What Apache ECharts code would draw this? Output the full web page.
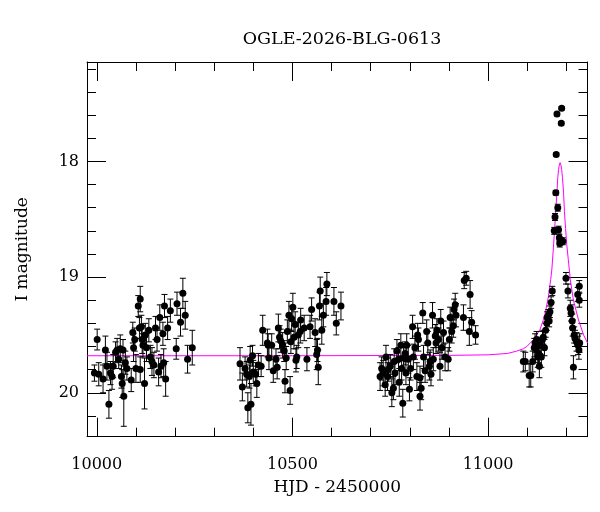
<!DOCTYPE html>
<html>
<head>
<meta charset="utf-8">
<script src="https://cdn.jsdelivr.net/npm/echarts@6/dist/echarts.min.js"></script>
<style>html,body{margin:0;padding:0;background:#fff}#c{width:600px;height:512px}</style>
</head>
<body>
<div id="c"></div>
<script>
// ---- data (HJD-2450000, I mag, error) ----
const hjd = [
 9994,10001,10005,10016,10022,10026,10031,10035,10039,10042,10048,10052,10056,10060,10063,10065,10067,10069,10073,10077,
 10088,10092,10094,10097,10100,10106,10109,10111,10111,10114,10116,10118,10122,10124,10127,10133,10137,10141,10146,10150,
 10154,10158,10161,10164,10169,10171,10173,10176,10181,10188,10203,10205,10214,10220,10226,10232,10244,
 10366,10372,10379,10383,10386,10390,10392,10394,10398,10400,10406,10409,10413,10420,10424,10436,10438,10440,10447,10451,
 10458,10461,10464,10467,10470,10475,10479,10481,10484,10487,10491,10494,10496,10498,10501,10504,10507,10509,10511,10515,
 10520,10521,10530,10537,10545,10549,10558,10562,10564,10566,10569,10571,10575,10579,10586,10588,10606,10612,10624,
 10724,10728,10732,10737,10739,10743,10745,10750,10754,10758,10760,10762,10767,10771,10773,10777,10779,10782,10784,10788,
 10790,10792,10796,10799,10802,10807,10809,10813,10818,10820,10822,10826,10826,10829,10833,10835,10839,10843,10846,10850,
 10852,10854,10858,10860,10865,10867,10869,10873,10877,10879,10882,10886,10890,10898,10901,10903,10907,10911,10913,10916,
 10918,10937,10939,10944,10952,10954,10958,10968,
 11090,11095,11105,11109,11114,11118,11120,11123,11124,11127,11129,11131,11133,11136,11139,11141,11144,11147,11150,11151,
 11154,11156,11158,11161,11164,11169,11171,11173,11174,11176,11178,11180,11182,11183,11186,11187,11188,11191,
 11199,11204,11210,11212,11215,11216,11218,11220,11222,11226,11229,11230,11232,11233,11233,11234
];
const imag = [
 19.83,19.54,19.84,19.88,19.63,19.77,20.10,19.83,19.86,19.77,19.65,19.63,19.71,19.62,19.86,19.92,19.63,20.03,19.74,19.79,
 19.89,19.48,19.61,19.54,19.79,19.25,19.44,19.19,19.80,19.43,19.54,19.59,19.92,19.50,19.61,19.46,19.69,19.73,19.76,19.44,
 19.54,19.82,19.35,19.77,19.49,19.74,19.25,19.88,19.44,19.29,19.62,19.23,19.39,19.14,19.33,19.71,19.61,
 19.75,19.95,19.79,19.84,20.13,19.86,19.72,20.10,19.68,19.82,19.84,19.92,19.76,19.77,19.46,19.57,19.59,19.70,19.59,19.81,
 19.71,19.78,19.44,19.52,19.55,19.59,19.64,19.90,19.70,19.47,19.33,19.98,19.56,19.36,19.26,19.52,19.41,19.72,19.69,19.50,
 19.47,19.37,19.44,19.71,19.43,19.28,19.48,19.67,19.63,19.78,19.25,19.12,19.46,19.33,19.21,19.06,19.21,19.40,19.25,
 19.86,19.79,19.83,19.93,19.69,19.86,19.80,19.77,20.00,19.96,19.73,19.83,19.64,19.71,19.91,19.59,19.79,20.09,19.70,19.66,
 19.83,19.59,19.71,19.97,19.79,19.43,19.69,19.61,19.86,19.50,19.54,19.87,20.03,19.96,19.31,19.69,19.81,19.47,19.57,19.77,
 19.73,19.84,19.33,19.71,19.51,19.57,19.46,19.54,19.77,19.38,19.61,19.48,19.69,19.71,19.54,19.35,19.47,19.42,19.28,19.24,
 19.33,19.35,19.03,19.01,19.47,19.15,19.39,19.50,
 19.73,19.73,19.85,19.85,19.73,19.61,19.57,19.62,19.54,19.69,19.66,19.77,19.59,19.69,19.54,19.52,19.61,19.46,19.40,19.35,
 19.33,19.38,19.30,19.22,19.12,18.60,18.48,18.27,17.94,17.59,18.40,18.59,18.66,18.71,18.69,17.67,17.54,18.69,
 19.01,19.12,19.27,19.31,19.38,19.44,19.78,19.50,19.53,19.56,19.15,19.59,19.63,19.20,19.08,19.57
];
const ierr = [
 0.07,0.09,0.10,0.12,0.12,0.12,0.12,0.10,0.11,0.10,0.09,0.10,0.08,0.12,0.10,0.12,0.09,0.26,0.10,0.10,
 0.10,0.09,0.12,0.10,0.12,0.09,0.09,0.11,0.11,0.10,0.12,0.10,0.22,0.10,0.12,0.10,0.10,0.12,0.11,0.10,
 0.10,0.12,0.11,0.10,0.10,0.12,0.10,0.15,0.10,0.10,0.09,0.10,0.12,0.13,0.12,0.12,0.15,
 0.14,0.12,0.10,0.11,0.13,0.10,0.12,0.18,0.09,0.10,0.10,0.12,0.10,0.09,0.13,0.12,0.10,0.10,0.10,0.10,
 0.09,0.10,0.12,0.10,0.10,0.11,0.09,0.10,0.10,0.10,0.12,0.12,0.10,0.11,0.12,0.10,0.11,0.10,0.10,0.11,
 0.10,0.10,0.11,0.10,0.10,0.10,0.12,0.13,0.10,0.15,0.12,0.12,0.12,0.10,0.12,0.10,0.12,0.10,0.12,
 0.12,0.10,0.11,0.10,0.10,0.12,0.10,0.10,0.12,0.10,0.11,0.10,0.10,0.10,0.12,0.10,0.10,0.12,0.10,0.10,
 0.10,0.10,0.12,0.10,0.10,0.10,0.11,0.10,0.12,0.10,0.10,0.10,0.12,0.10,0.09,0.10,0.10,0.10,0.10,0.12,
 0.10,0.10,0.11,0.10,0.10,0.09,0.10,0.10,0.12,0.10,0.10,0.10,0.12,0.10,0.10,0.09,0.10,0.10,0.09,0.10,
 0.10,0.11,0.07,0.06,0.12,0.12,0.10,0.08,
 0.09,0.08,0.10,0.10,0.09,0.08,0.08,0.09,0.07,0.09,0.08,0.10,0.07,0.09,0.07,0.06,0.07,0.06,0.06,0.05,
 0.05,0.05,0.05,0.05,0.04,0.03,0.03,0.02,0.015,0.015,0.03,0.03,0.03,0.03,0.03,0.015,0.015,0.03,
 0.05,0.06,0.07,0.07,0.06,0.07,0.10,0.07,0.07,0.08,0.06,0.08,0.08,0.06,0.05,0.08
];
// model light curve
const modelT = [9975,10500,10900,11000,11050,11073,11090,11099,11116,11124,11133,11141,11146,11154,11160,11163,11167,11170,11173,11176,11178,11180,11182,11184,11186,11188,11190,11193,11195,11198,11201,11205,11210,11218,11231,11244,11254];
const modelM = [19.68,19.68,19.677,19.672,19.66,19.64,19.62,19.60,19.54,19.50,19.45,19.37,19.31,19.17,19.02,18.93,18.74,18.58,18.43,18.26,18.14,18.07,18.03,18.01,18.03,18.07,18.14,18.28,18.43,18.58,18.72,18.85,19.02,19.20,19.37,19.50,19.57];
// axis ticks
const xMajor = [10000,10500,11000];
const xMinor = [10100,10200,10300,10400,10600,10700,10800,10900,11100,11200];
const yMajor = [18,19,20];
const yMinor = [17.2,17.4,17.6,17.8,18.2,18.4,18.6,18.8,19.2,19.4,19.6,19.8,20.2];
const xRange = [9975,11254];
const yRange = [17.14,20.38];

const FONT = 'DejaVu Serif';
const points = hjd.map((t,i)=>[t, imag[i], ierr[i]]);
const model = modelT.map((t,i)=>[t, modelM[i]]);

function xAx(pos, ticks, len, main){
  return {
    type:'value', position:pos, min:xRange[0], max:xRange[1],
    axisLine:{show:main, onZero:false, lineStyle:{color:'#000', width:1}},
    axisTick:{show:true, inside:true, length:len, customValues:ticks, lineStyle:{color:'#000', width:1}},
    axisLabel:{show:main && pos==='bottom', customValues:xMajor, margin:20, color:'#000', fontFamily:FONT, fontSize:16,
      formatter:function(v){ return String(Math.round(v)); }},
    splitLine:{show:false},
    name: (main && pos==='bottom') ? 'HJD - 2450000' : '',
    nameLocation:'middle', nameGap:42,
    nameTextStyle:{color:'#000', fontFamily:FONT, fontSize:17}
  };
}
function yAx(pos, ticks, len, main){
  return {
    type:'value', position:pos, inverse:true, min:yRange[0], max:yRange[1],
    axisLine:{show:main, onZero:false, lineStyle:{color:'#000', width:1}},
    axisTick:{show:true, inside:true, length:len, customValues:ticks, lineStyle:{color:'#000', width:1}},
    axisLabel:{show:main && pos==='left', customValues:yMajor, margin:8, color:'#000', fontFamily:FONT, fontSize:16,
      formatter:function(v){ return String(Math.round(v)); }},
    splitLine:{show:false},
    name: (main && pos==='left') ? 'I magnitude' : '',
    nameLocation:'middle', nameGap:56, nameRotate:90,
    nameTextStyle:{color:'#000', fontFamily:FONT, fontSize:17}
  };
}

const chart = echarts.init(document.getElementById('c'), null, {renderer:'canvas'});
chart.setOption({
  animation:false,
  backgroundColor:'#fff',
  title:{text:'OGLE-2026-BLG-0613', left:337, top:25, textAlign:'center',
    textStyle:{color:'#000', fontFamily:FONT, fontSize:17.5, fontWeight:'normal'}},
  grid:{left:87, right:12.5, top:62, bottom:75.3, containLabel:false},
  xAxis:[xAx('bottom', xMajor, 19, true), xAx('bottom', xMinor, 9, false), xAx('top', xMajor, 19, true), xAx('top', xMinor, 9, false)],
  yAxis:[yAx('left', yMajor, 19, true), yAx('left', yMinor, 9, false), yAx('right', yMajor, 19, true), yAx('right', yMinor, 9, false)],
  series:[
    {type:'line', data:model, xAxisIndex:0, yAxisIndex:0, showSymbol:false, symbol:'none', z:1,
     lineStyle:{color:'#ff00ff', width:1}, clip:true},
    {type:'custom', data:points, xAxisIndex:0, yAxisIndex:0, z:2, clip:true,
     encode:{x:0, y:1},
     renderItem:function(params, api){
       const t = api.value(0), m = api.value(1), e = api.value(2);
       const a = api.coord([t, m - e]);
       const b = api.coord([t, m + e]);
       const w = 3;
       const st = {stroke:'#000', lineWidth:1};
       return {type:'group', children:[
         {type:'line', shape:{x1:a[0], y1:a[1], x2:b[0], y2:b[1]}, style:st},
         {type:'line', shape:{x1:a[0]-w, y1:a[1], x2:a[0]+w, y2:a[1]}, style:st},
         {type:'line', shape:{x1:b[0]-w, y1:b[1], x2:b[0]+w, y2:b[1]}, style:st}
       ]};
     }},
    {type:'scatter', data:points.map(p=>[p[0],p[1]]), xAxisIndex:0, yAxisIndex:0, z:3,
     symbol:'circle', symbolSize:7, itemStyle:{color:'#000', opacity:1}}
  ]
});
</script>
</body>
</html>
